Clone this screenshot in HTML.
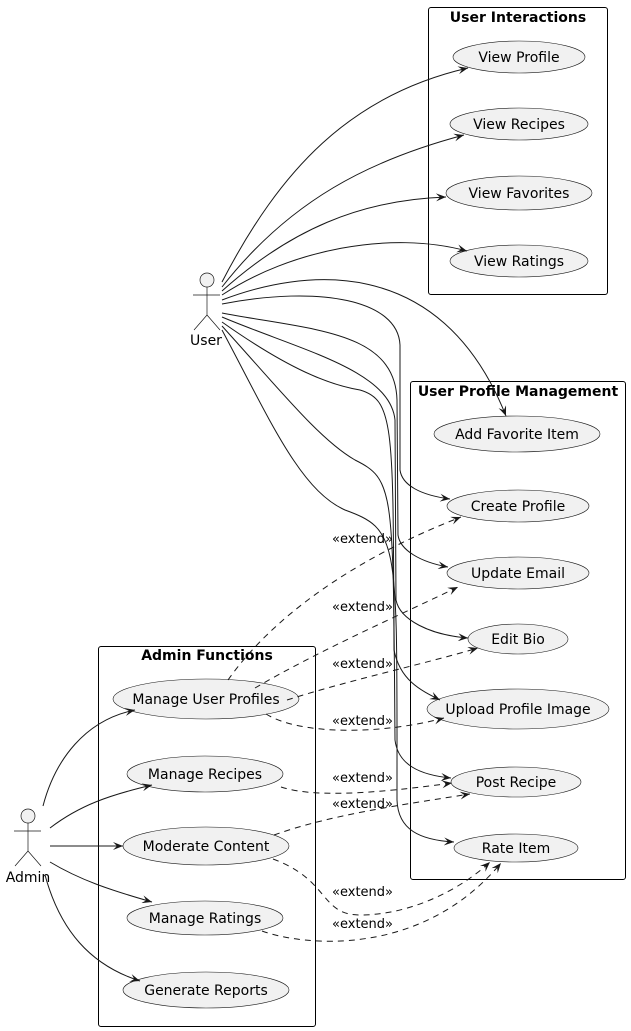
<!DOCTYPE html>
<html><head><meta charset="utf-8"><style>
html,body{margin:0;padding:0;background:#fff;}
svg{display:block;font-family:"DejaVu Sans","Liberation Sans",sans-serif;}
</style></head><body>
<svg width="631" height="1031" viewBox="0 0 631 1031" xmlns="http://www.w3.org/2000/svg">
<defs>
<marker id="a" viewBox="0 0 10 8" refX="10" refY="4" markerWidth="10" markerHeight="8" orient="auto" markerUnits="userSpaceOnUse">
<path d="M0,0 L10,4 L0,8 L4,4 z" fill="#181818"/>
</marker>
</defs>
<g fill="none" stroke="#000" stroke-width="1">
<rect x="428.5" y="7.5" width="179" height="287" rx="2.5"/>
<rect x="410.5" y="381.5" width="215" height="498" rx="2.5"/>
<rect x="98.5" y="646.5" width="217" height="380" rx="2.5"/>
</g>
<g font-weight="bold" font-size="14" text-anchor="middle" fill="#000">
<text x="518" y="22">User Interactions</text>
<text x="518" y="396">User Profile Management</text>
<text x="207" y="660">Admin Functions</text>
</g>
<g fill="#f1f1f1" stroke="#181818" stroke-width="0.6">
<ellipse cx="519" cy="57" rx="66" ry="16"/>
<ellipse cx="519" cy="124" rx="69" ry="16"/>
<ellipse cx="519" cy="193" rx="73" ry="17"/>
<ellipse cx="519" cy="261" rx="69" ry="16"/>
<ellipse cx="517" cy="434" rx="83" ry="18"/>
<ellipse cx="518" cy="506" rx="71" ry="16"/>
<ellipse cx="518" cy="573" rx="71" ry="16"/>
<ellipse cx="518" cy="639" rx="50" ry="15"/>
<ellipse cx="518" cy="709" rx="91" ry="20"/>
<ellipse cx="516" cy="782" rx="65" ry="15"/>
<ellipse cx="516" cy="848" rx="62" ry="14"/>
<ellipse cx="206" cy="699" rx="93" ry="20"/>
<ellipse cx="205" cy="774" rx="78" ry="18"/>
<ellipse cx="206" cy="846" rx="83" ry="19"/>
<ellipse cx="205" cy="918" rx="78" ry="17"/>
<ellipse cx="206" cy="990" rx="83" ry="18"/>
</g>
<g font-size="14" text-anchor="middle" fill="#000">
<text x="519" y="62">View Profile</text>
<text x="519" y="129">View Recipes</text>
<text x="519" y="198">View Favorites</text>
<text x="519" y="266">View Ratings</text>
<text x="517" y="439">Add Favorite Item</text>
<text x="518" y="511">Create Profile</text>
<text x="518" y="578">Update Email</text>
<text x="518" y="644">Edit Bio</text>
<text x="518" y="714">Upload Profile Image</text>
<text x="516" y="787">Post Recipe</text>
<text x="516" y="853">Rate Item</text>
<text x="206" y="704">Manage User Profiles</text>
<text x="205" y="779">Manage Recipes</text>
<text x="206" y="851">Moderate Content</text>
<text x="205" y="923">Manage Ratings</text>
<text x="206" y="995">Generate Reports</text>
</g>
<g fill="#f1f1f1" stroke="#181818" stroke-width="0.7">
<circle cx="207" cy="280" r="7"/>
<path d="M207,287 V315 M193,295 H220 M207,315 L194,330 M207,315 L220,330" fill="none"/>
<circle cx="28" cy="816" r="7"/>
<path d="M28,823 V851 M14,831 H41 M28,851 L15,866 M28,851 L41,866" fill="none"/>
</g>
<g font-size="14" text-anchor="middle" fill="#000">
<text x="206" y="345">User</text>
<text x="28" y="882">Admin</text>
</g>
<g fill="none" stroke="#181818" stroke-width="1" marker-end="url(#a)">
<path d="M222,282 C280,170 350,95 468,68"/>
<path d="M222,287 C290,200 370,160 464,135"/>
<path d="M222,291 C290,230 360,200 446,197"/>
<path d="M222,295 C290,250 390,230 467,251"/>
<path d="M222,300 C300,270 440,250 506,416"/>
<path d="M222,304 C320,285 398,300 400,345 L400,470 C402,485 420,495 450,499"/>
<path d="M222,313 C310,330 395,330 397,400 L398,535 C400,550 420,562 448,567"/>
<path d="M222,317 C300,350 390,370 395,420 L396,600 C400,620 430,635 468,638"/>
<path d="M222,322 C290,370 330,385 360,390 C395,400 393,430 394,650 C400,680 420,690 440,700"/>
<path d="M222,326 C280,390 320,440 355,460 C395,480 393,490 395,740 C398,765 420,775 451,778"/>
<path d="M222,330 C270,420 300,490 345,510 C400,530 397,540 397,800 C398,830 420,840 454,842"/>
</g>
<g fill="none" stroke="#181818" stroke-width="1" marker-end="url(#a)">
<path d="M43,806 C55,760 85,720 135,710"/>
<path d="M50,828 C80,805 110,795 152,785"/>
<path d="M50,846 L123,846"/>
<path d="M50,862 C80,880 110,890 152,902"/>
<path d="M45,875 C60,930 90,965 140,981"/>
</g>
<g fill="none" stroke="#181818" stroke-width="1" stroke-dasharray="6,5" marker-end="url(#a)">
<path d="M228,680 C270,620 350,560 461,517"/>
<path d="M255,688 C320,650 400,615 458,587"/>
<path d="M287,700 C350,680 420,665 478,648"/>
<path d="M266,714 C300,735 380,735 444,718"/>
<path d="M281,787 C320,800 400,790 452,783"/>
<path d="M274,835 C330,815 400,805 470,794"/>
<path d="M273,859 C330,880 320,915 360,915 C410,915 460,890 490,862"/>
<path d="M262,931 C300,945 420,960 501,863"/>
</g>
<g font-size="13" text-anchor="end" fill="#000">
<text x="393" y="543">«extend»</text>
<text x="393" y="611">«extend»</text>
<text x="393" y="668">«extend»</text>
<text x="393" y="725">«extend»</text>
<text x="393" y="782">«extend»</text>
<text x="393" y="808">«extend»</text>
<text x="393" y="896">«extend»</text>
<text x="393" y="928">«extend»</text>
</g>
</svg>
</body></html>
